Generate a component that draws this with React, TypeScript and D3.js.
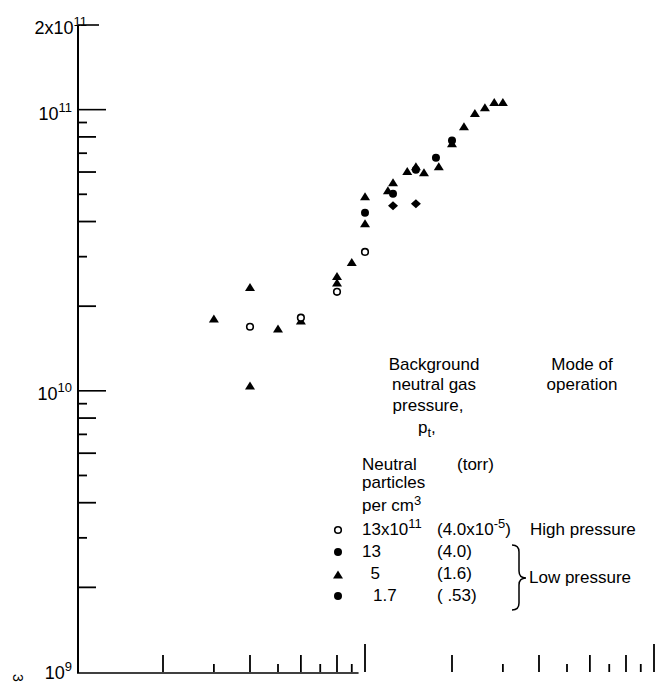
import React from 'react';
import * as d3 from 'd3';

// Data (x: log axis, unlabeled; y: neutral particle / density values)
const openCircleX = [4, 6, 8, 10];
const openCircleY = [1.69e10, 1.82e10, 2.25e10, 3.12e10];
const filledCircleX = [10, 12.5, 15, 17.6, 20];
const filledCircleY = [4.3e10, 5.02e10, 6.11e10, 6.75e10, 7.76e10];
const triangleX = [3, 4, 4, 5, 6, 8, 8, 9, 10, 10, 12, 12.5, 14, 15, 16, 18, 20, 22, 24, 26, 28, 30];
const triangleY = [1.8e10, 2.33e10, 1.04e10, 1.66e10, 1.77e10, 2.55e10, 2.42e10, 2.86e10, 4.9e10, 3.93e10, 5.15e10, 5.5e10, 6.02e10, 6.27e10, 5.97e10, 6.27e10, 7.57e10, 8.7e10, 9.68e10, 1.016e11, 1.06e11, 1.06e11];
const diamondX = [12.5, 15];
const diamondY = [4.55e10, 4.63e10];

const xMinorTicks = [2, 3, 4, 5, 6, 7, 8, 9, 20, 30, 40, 50, 60, 70, 80, 90];
const xMajorTicks = [10, 100];
const yMinorTicks = [2e9, 3e9, 4e9, 5e9, 6e9, 7e9, 8e9, 9e9, 2e10, 3e10, 4e10, 5e10, 6e10, 7e10, 8e10, 9e10];
const yMajorTicks = [1e10, 1e11];
const yTopTick = 2e11;
const yTickLabels = [
  { v: 2e11, pre: '2x10', exp: '11' },
  { v: 1e11, pre: '10', exp: '11' },
  { v: 1e10, pre: '10', exp: '10' },
  { v: 1e9, pre: '10', exp: '9' },
];

const FONT = '"Liberation Sans", Arial, sans-serif';

const tri = 'M0,-4.5L5,3.5L-5,3.5Z';
const dia = 'M0,-4.5L5,0L0,4.5L-5,0Z';

export default function App() {
  const x = d3.scaleLog().domain([1, 100]).range([76, 654]);
  const y = d3.scaleLog().domain([1e9, 2e11]).range([672, 25]);
  const x0 = x(1) + 2;
  const yBottom = y(1e9);

  const labelDy: Record<string, number> = { '2e+11': 4, '100000000000': 10, '10000000000': 9, '1000000000': 7 };

  return (
    <svg width={658} height={685} style={{ position: 'absolute', left: 0, top: 0, background: '#fff' }} fontFamily={FONT}>
      <rect width={658} height={685} fill="#fff" />
      {/* Y axis */}
      <line x1={x0} x2={x0} y1={y(yTopTick)} y2={yBottom + 1} stroke="#000" strokeWidth={2} />
      {/* X axis line (partial, as in the scan) */}
      <line x1={x0 - 1} x2={x(9.5)} y1={yBottom + 1} y2={yBottom + 1} stroke="#000" strokeWidth={1.6} />
      {/* Y ticks */}
      {yMinorTicks.map((v, i) => {
        const m = Math.round(v / Math.pow(10, Math.floor(Math.log10(v) + 1e-9)));
        const len = m % 2 === 0 ? 18 : 9;
        return <line key={'ym' + i} x1={x0} x2={x0 + len} y1={y(v)} y2={y(v)} stroke="#000" strokeWidth={1.8} />;
      })}
      {yMajorTicks.map((v, i) => (
        <line key={'yM' + i} x1={x0} x2={x0 + 28} y1={y(v)} y2={y(v)} stroke="#000" strokeWidth={1.6} />
      ))}
      <line x1={x0} x2={x0 + 21} y1={y(yTopTick)} y2={y(yTopTick)} stroke="#000" strokeWidth={1.6} />
      {/* X ticks */}
      {xMinorTicks.map((v, i) => {
        const m = Math.round(v / Math.pow(10, Math.floor(Math.log10(v) + 1e-9)));
        const len = m % 2 === 0 ? 17 : 8;
        return <line key={'xm' + i} x1={x(v)} x2={x(v)} y1={yBottom} y2={yBottom - len} stroke="#000" strokeWidth={1.8} />;
      })}
      {xMajorTicks.map((v, i) => (
        <line key={'xM' + i} x1={x(v)} x2={x(v)} y1={yBottom} y2={yBottom - 28} stroke="#000" strokeWidth={1.8} />
      ))}
      {/* Y tick labels */}
      {yTickLabels.map((t, i) => (
        <text key={'yl' + i} x={t.v === 2e11 ? 87 : 72} y={y(t.v) + (labelDy[String(t.v)] ?? 9)} textAnchor="end" fontSize={18}>
          {t.pre}
          <tspan dy={-8} fontSize={13}>{t.exp}</tspan>
        </text>
      ))}
      {/* cut-off axis title fragment */}
      <text x={13} y={674} fontSize={14} transform="rotate(90,13,674)">3</text>

      {/* Data */}
      {triangleX.map((v, i) => (
        <path key={'t' + i} d={tri} transform={`translate(${x(v)},${y(triangleY[i])})`} fill="#000" />
      ))}
      {filledCircleX.map((v, i) => (
        <circle key={'f' + i} cx={x(v)} cy={y(filledCircleY[i])} r={4} fill="#000" />
      ))}
      {diamondX.map((v, i) => (
        <path key={'d' + i} d={dia} transform={`translate(${x(v)},${y(diamondY[i])})`} fill="#000" />
      ))}
      {openCircleX.map((v, i) => (
        <circle key={'o' + i} cx={x(v)} cy={y(openCircleY[i])} r={3.3} fill="#fff" stroke="#000" strokeWidth={1.6} />
      ))}

      {/* Legend */}
      <g fontSize={17} fill="#000">
        <text x={434} y={370} textAnchor="middle">Background</text>
        <text x={434} y={390} textAnchor="middle">neutral gas</text>
        <text x={428} y={411} textAnchor="middle">pressure,</text>
        <text x={418} y={433}>p<tspan dy={4} fontSize={13}>t</tspan><tspan dy={-4}>,</tspan></text>
        <text x={582} y={370} textAnchor="middle">Mode of</text>
        <text x={582} y={390} textAnchor="middle">operation</text>
        <text x={362} y={470}>Neutral</text>
        <text x={457} y={470}>(torr)</text>
        <text x={362} y={488}>particles</text>
        <text x={362} y={511}>per cm<tspan dy={-6} fontSize={13}>3</tspan></text>

        <circle cx={338} cy={530} r={3.3} fill="#fff" stroke="#000" strokeWidth={1.6} />
        <text x={362} y={535}>13x10<tspan dy={-7} fontSize={13}>11</tspan></text>
        <text x={437} y={535}>(4.0x10<tspan dy={-7} fontSize={13}>-5</tspan><tspan dy={7}>)</tspan></text>
        <text x={530} y={535}>High pressure</text>

        <circle cx={338} cy={552} r={4} fill="#000" />
        <text x={362} y={557}>13</text>
        <text x={437} y={557}>(4.0)</text>

        <path d={tri} transform="translate(338,575)" fill="#000" />
        <text x={380} y={579} textAnchor="end">5</text>
        <text x={437} y={579}>(1.6)</text>

        <circle cx={338} cy={596} r={4} fill="#000" />
        <text x={373} y={601}>1.7</text>
        <text x={437} y={601}>( .53)</text>

        <path d="M512,545 Q519,545 519,552 L519,571 Q519,578 526,578 Q519,578 519,585 L519,603 Q519,610 512,610" fill="none" stroke="#000" strokeWidth={1.5} />
        <text x={529} y={583}>Low pressure</text>
      </g>
    </svg>
  );
}
